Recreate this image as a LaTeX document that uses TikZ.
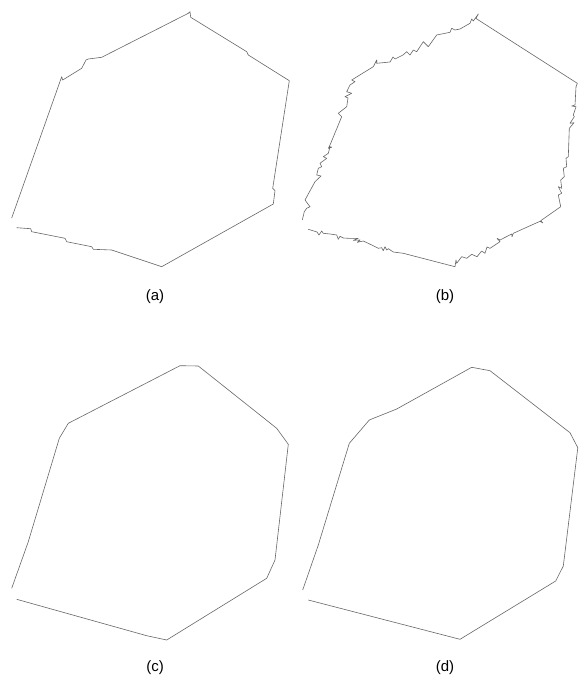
\documentclass[tikz,border=0pt]{standalone}
\usepackage{fontspec}
\setmainfont{Liberation Sans}
\usepackage{tikz}
\usetikzlibrary{positioning}

\begin{document}
\begin{tikzpicture}[x=1pt, y=-1pt,
    contour/.style={draw=black!60, line width=0.6pt, line join=round},
    caption/.style={font=\fontsize{15}{17}\selectfont, inner sep=0pt}]
  \useasboundingbox (0,0) rectangle (578,679);

  % (a) raw contour, small steps
  \draw[contour] (11.7,218) -- (61.7,76.7) -- (62.7,80) -- (81.7,68.3) -- (86,60)
    -- (88.3,59) -- (101.7,57.3) -- (188.3,13.3) -- (190,11.7) -- (190.7,17.3)
    -- (246.7,51.7) -- (248.3,55) -- (289.3,80.7) -- (272.7,188.3) -- (275,190.7)
    -- (273.3,204) -- (161.7,266.7) -- (111.7,250) -- (93.3,249.3) -- (91.7,246.7)
    -- (66.7,241.7) -- (65,238.3) -- (31.7,231.7) -- (30.7,228.7) -- (16.7,227.7);
  \node[caption] (capA) at (155,297) {(a)};

  % (b) noisy contour
  \draw[contour] (302.3,220) -- (304.3,211.7) -- (306.7,208.3) -- (310,206.7)
    -- (305,200) -- (315,181.7) -- (321,176) -- (316.7,175) -- (318.3,168.3)
    -- (321.7,166.7) -- (320,163.3) -- (326.7,158.3) -- (323.3,156.7) -- (328.3,153.3)
    -- (330,146.7) -- (331.7,147.3) -- (328.3,148.3) -- (330,145) -- (341.7,116.7)
    -- (338.3,113.3) -- (346.7,106.7) -- (348,98) -- (345,96.7) -- (351.7,93.3)
    -- (346.7,91.7) -- (350,85) -- (355,81.7) -- (351.7,80) -- (373.3,66.7)
    -- (376.7,60) -- (376.7,63.3) -- (390,62) -- (393,57) -- (395,59) -- (403,55)
    -- (406.7,51.7) -- (410,55) -- (413.3,50) -- (416.7,51.7) -- (423.3,41.7)
    -- (428.3,46.7) -- (436.7,35) -- (450,32.3) -- (451.7,28.3) -- (455,30)
    -- (460,29) -- (470,23.3) -- (471.7,19) -- (473.3,21) -- (478.3,14) -- (476,18.5)
    -- (577.3,83.3) -- (576,86.7) -- (575,105) -- (571.7,106) -- (576,106.7)
    -- (573.3,115) -- (574.3,116.7) -- (570,123.3) -- (574,122.7) -- (569.3,128.3)
    -- (568.3,156.7) -- (566,158.3) -- (566.7,166.7) -- (563.3,168.3) -- (564.3,176.7)
    -- (560.7,180) -- (561.7,188.3) -- (558.3,186.7) -- (561.7,193.3) -- (558.3,195)
    -- (560.7,206.7) -- (540.7,220.7) -- (543,223) -- (540,221.3) -- (513.3,233.3)
    -- (512,236.7) -- (511.7,234) -- (500,240) -- (497,238.3) -- (500,241.7)
    -- (490,248.3) -- (487,247) -- (485,253.3) -- (481.7,251) -- (477,256.7)
    -- (471.7,254.3) -- (466.7,258.3) -- (461.7,256.7) -- (456.7,263.3) -- (456,260)
    -- (455,266.7) -- (403.3,253.3) -- (393.3,252) -- (388.3,248.7) -- (386.7,250)
    -- (385,246.7) -- (383.3,250.7) -- (381.7,247.7) -- (378.3,248.3) -- (371.7,245)
    -- (363.3,241) -- (357.3,242.3) -- (360,240) -- (353.3,240.3) -- (358.3,238.3)
    -- (348.3,238.3) -- (343.3,238) -- (340,236.3) -- (338.3,239.3) -- (336.7,235)
    -- (330,234) -- (323.3,233.3) -- (321.7,231) -- (319,235) -- (317,232)
    -- (308.3,229.3);
  \node[caption] (capB) at (445,297) {(b)};

  % (c) smoothed contour
  \draw[contour] (11.7,588.3) -- (28.3,541.7) -- (59.3,438.3) -- (68.3,423.3)
    -- (180,365.7) -- (198.3,366) -- (276.7,428.3) -- (288.3,444.3) -- (275,560)
    -- (266.7,578.3) -- (166.7,640) -- (146.7,635.7) -- (16.7,599.3);
  \node[caption] (capC) at (155,668) {(c)};

  % (d) smoothed contour
  \draw[contour] (302.7,590) -- (318.3,545) -- (349.3,443.3) -- (369.3,420)
    -- (396.7,409) -- (471.7,367.3) -- (490,370.7) -- (570,432.7) -- (577.8,447.7)
    -- (563.3,566) -- (555.7,581) -- (460,639.3) -- (308.3,600);
  \node[caption] (capD) at (445,668) {(d)};
\end{tikzpicture}
\end{document}
